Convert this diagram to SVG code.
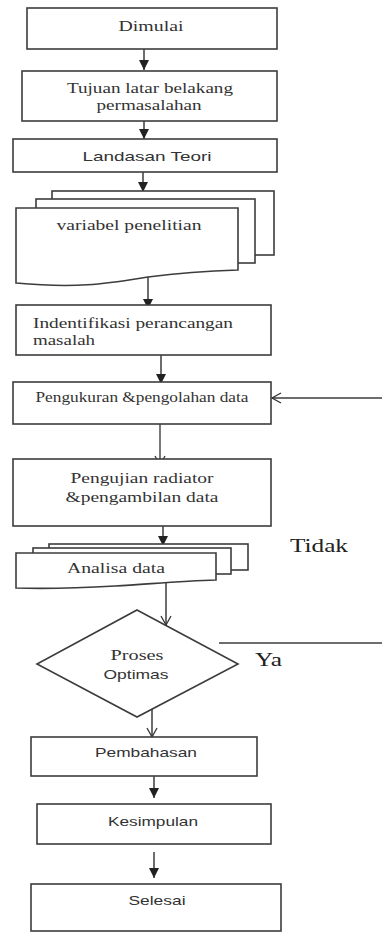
<svg xmlns="http://www.w3.org/2000/svg" width="382" height="932" viewBox="0 0 382 932">
<style>
.box{fill:#fff;stroke:#3c3c3c;stroke-width:1.6}
.con{fill:none;stroke:#3c3c3c;stroke-width:1.5}
.conl{fill:none;stroke:#6a6a6a;stroke-width:1.8}
.sf{font-family:"Liberation Serif","Times New Roman",serif;font-size:14px;fill:#333}
.ss{font-family:"Liberation Sans",Arial,sans-serif;font-size:13px;fill:#333}
.lbl{font-family:"Liberation Serif","Times New Roman",serif;font-size:19px;fill:#222}
</style>
<defs>
<marker id="fa" markerUnits="userSpaceOnUse" markerWidth="10" markerHeight="10" refX="10" refY="5" orient="auto">
<path d="M0,0 L10,5 L0,10 z" fill="#222"/>
</marker>
<marker id="oa" markerUnits="userSpaceOnUse" markerWidth="12" markerHeight="12" refX="10" refY="6" orient="auto">
<path d="M1,1 L10,6 L1,11" fill="none" stroke="#333" stroke-width="1.3"/>
</marker>
</defs>

<g id="connectors">
<line class="con" x1="144" y1="43" x2="144" y2="70" marker-end="url(#fa)"/>
<line class="con" x1="144" y1="116" x2="144" y2="139" marker-end="url(#fa)"/>
<line class="con" x1="143" y1="172" x2="143" y2="192" marker-end="url(#fa)"/>
<line class="con" x1="148" y1="268" x2="148" y2="309" marker-end="url(#fa)"/>
<line class="con" x1="161" y1="355" x2="161" y2="384" marker-end="url(#fa)"/>
<line class="con" x1="382" y1="398" x2="272" y2="398" marker-end="url(#oa)"/>
<line class="conl" x1="160" y1="420" x2="160" y2="465" marker-end="url(#oa)"/>
<line class="con" x1="163" y1="522" x2="163" y2="546" marker-end="url(#fa)"/>
<line class="con" x1="166" y1="580" x2="166" y2="625" marker-end="url(#oa)"/>
<line class="con" x1="219" y1="643" x2="382" y2="643"/>
<line class="con" x1="152" y1="706" x2="152" y2="737" marker-end="url(#oa)"/>
<line class="con" x1="154" y1="776" x2="154" y2="798" marker-end="url(#fa)"/>
<line class="con" x1="154" y1="852" x2="154" y2="878" marker-end="url(#fa)"/>
</g>

<g id="n1"><rect class="box" x="27" y="8" width="250" height="41"/>
<text class="sf" x="151" y="31" text-anchor="middle" textLength="65" lengthAdjust="spacingAndGlyphs">Dimulai</text></g>

<g id="n2"><rect class="box" x="22" y="71" width="255" height="50"/>
<text class="sf" x="150" y="93" text-anchor="middle" textLength="166" lengthAdjust="spacingAndGlyphs">Tujuan latar belakang</text>
<text class="sf" x="149" y="110" text-anchor="middle" textLength="105" lengthAdjust="spacingAndGlyphs">permasalahan</text></g>

<g id="n3"><rect class="box" x="13" y="139" width="264" height="33"/>
<text class="ss" x="147" y="161" text-anchor="middle" textLength="129" lengthAdjust="spacingAndGlyphs">Landasan Teori</text></g>

<g id="n4">
<rect class="box" x="52" y="191" width="222" height="64"/>
<rect class="box" x="36" y="199" width="219" height="64"/>
<path class="box" d="M16,208 H238 V270 C210,271 180,273 148,277 C110,283 80,289 16,283 Z"/>
<text class="sf" x="129" y="230" text-anchor="middle" textLength="145" lengthAdjust="spacingAndGlyphs">variabel penelitian</text></g>

<g id="n5"><rect class="box" x="16" y="305" width="255" height="50"/>
<text class="sf" x="33" y="328" textLength="200" lengthAdjust="spacingAndGlyphs">Indentifikasi perancangan</text>
<text class="sf" x="33" y="345" textLength="62" lengthAdjust="spacingAndGlyphs">masalah</text></g>

<g id="n6"><rect class="box" x="13" y="382" width="258" height="42"/>
<text class="sf" x="142" y="402" text-anchor="middle" textLength="213" lengthAdjust="spacingAndGlyphs" font-size="13">Pengukuran &amp;pengolahan data</text></g>

<g id="n7"><rect class="box" x="13" y="459" width="258" height="67"/>
<text class="sf" x="142" y="483" text-anchor="middle" textLength="143" lengthAdjust="spacingAndGlyphs">Pengujian radiator</text>
<text class="sf" x="142" y="502" text-anchor="middle" textLength="153" lengthAdjust="spacingAndGlyphs">&amp;pengambilan data</text></g>

<g id="n8">
<rect class="box" x="49" y="544" width="199" height="26"/>
<rect class="box" x="33" y="548" width="198" height="26"/>
<path class="box" d="M16,553 H216 V580 C180,581 150,584 115,586 C80,588 50,589 16,588 Z"/>
<text class="sf" x="116" y="573" text-anchor="middle" textLength="98" lengthAdjust="spacingAndGlyphs">Analisa data</text></g>

<g id="n9"><path class="box" d="M137,610 L238,664 L137,717 L37,664 Z"/>
<text class="sf" x="137" y="660" text-anchor="middle" textLength="53" lengthAdjust="spacingAndGlyphs">Proses</text>
<text class="ss" x="136" y="679" text-anchor="middle" textLength="65" lengthAdjust="spacingAndGlyphs">Optimas</text></g>

<g id="n10"><rect class="box" x="31" y="737" width="226" height="39"/>
<text class="ss" x="146" y="757" text-anchor="middle" textLength="102" lengthAdjust="spacingAndGlyphs">Pembahasan</text></g>

<g id="n11"><rect class="box" x="37" y="804" width="234" height="40"/>
<text class="ss" x="153" y="826" text-anchor="middle" textLength="90" lengthAdjust="spacingAndGlyphs">Kesimpulan</text></g>

<g id="n12"><rect class="box" x="31" y="884" width="250" height="47"/>
<text class="ss" x="157" y="905" text-anchor="middle" textLength="57" lengthAdjust="spacingAndGlyphs">Selesai</text></g>

<text class="lbl" x="290" y="552" textLength="58" lengthAdjust="spacingAndGlyphs">Tidak</text>
<text class="lbl" x="255" y="666" textLength="27" lengthAdjust="spacingAndGlyphs">Ya</text>
</svg>
